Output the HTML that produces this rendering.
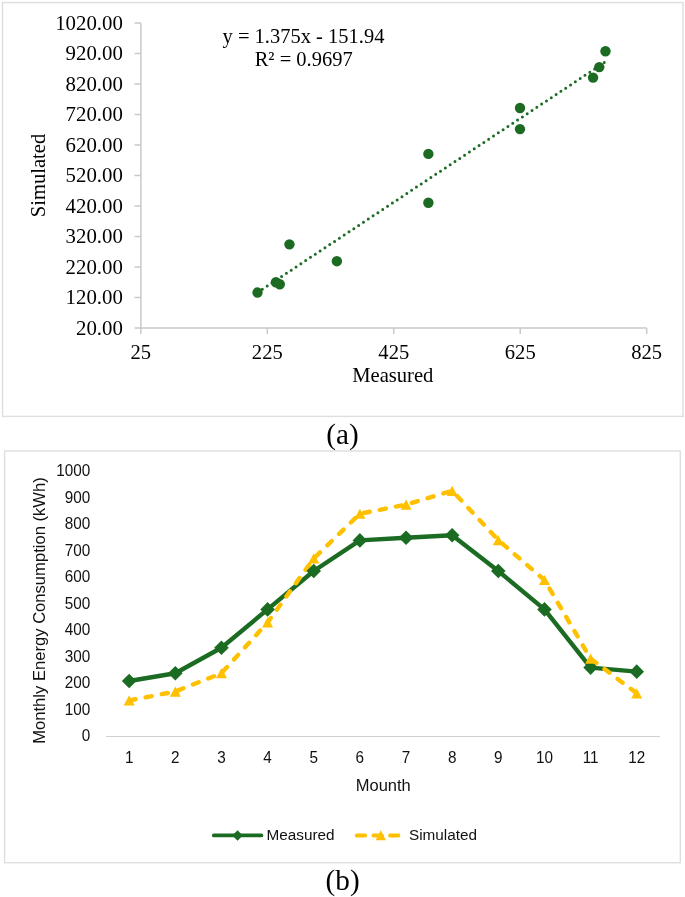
<!DOCTYPE html>
<html><head><meta charset="utf-8"><style>
html,body{margin:0;padding:0;background:#fff;}
svg{display:block;will-change:transform;}
.se{font-family:"Liberation Serif",serif;fill:#000;}
.sa{font-family:"Liberation Sans",sans-serif;fill:#111;}
</style></head><body>
<svg width="685" height="897" viewBox="0 0 685 897">
<rect x="0" y="0" width="685" height="897" fill="#fff"/>

<rect x="2.55" y="2.55" width="680.5" height="413.85" fill="none" stroke="#dedede" stroke-width="1.4"/>
<rect x="4.6" y="450.95" width="675.7" height="411.75" fill="none" stroke="#dedede" stroke-width="1.4"/>
<path d="M140.86 23.0 V327.9 H646.7" fill="none" stroke="#c9c9c9" stroke-width="1.5"/>
<path d="M134.56 327.90 H140.86 M134.56 297.41 H140.86 M134.56 266.92 H140.86 M134.56 236.43 H140.86 M134.56 205.94 H140.86 M134.56 175.45 H140.86 M134.56 144.96 H140.86 M134.56 114.47 H140.86 M134.56 83.98 H140.86 M134.56 53.49 H140.86 M134.56 23.00 H140.86 M140.86 327.9 V333.9 M267.32 327.9 V333.9 M393.78 327.9 V333.9 M520.24 327.9 V333.9 M646.70 327.9 V333.9" fill="none" stroke="#c9c9c9" stroke-width="1.5"/>
<text class="se" x="122.8" y="334.80" font-size="20.8" text-anchor="end">20.00</text>
<text class="se" x="122.8" y="304.31" font-size="20.8" text-anchor="end">120.00</text>
<text class="se" x="122.8" y="273.82" font-size="20.8" text-anchor="end">220.00</text>
<text class="se" x="122.8" y="243.33" font-size="20.8" text-anchor="end">320.00</text>
<text class="se" x="122.8" y="212.84" font-size="20.8" text-anchor="end">420.00</text>
<text class="se" x="122.8" y="182.35" font-size="20.8" text-anchor="end">520.00</text>
<text class="se" x="122.8" y="151.86" font-size="20.8" text-anchor="end">620.00</text>
<text class="se" x="122.8" y="121.37" font-size="20.8" text-anchor="end">720.00</text>
<text class="se" x="122.8" y="90.88" font-size="20.8" text-anchor="end">820.00</text>
<text class="se" x="122.8" y="60.39" font-size="20.8" text-anchor="end">920.00</text>
<text class="se" x="122.8" y="29.90" font-size="20.8" text-anchor="end">1020.00</text>
<text class="se" x="140.86" y="359.2" font-size="20.6" text-anchor="middle">25</text>
<text class="se" x="267.32" y="359.2" font-size="20.6" text-anchor="middle">225</text>
<text class="se" x="393.78" y="359.2" font-size="20.6" text-anchor="middle">425</text>
<text class="se" x="520.24" y="359.2" font-size="20.6" text-anchor="middle">625</text>
<text class="se" x="646.70" y="359.2" font-size="20.6" text-anchor="middle">825</text>
<text class="se" x="392.8" y="382.2" font-size="20.6" text-anchor="middle">Measured</text>
<text class="se" transform="translate(45.2 175.5) rotate(-90)" x="0" y="0" font-size="20.6" text-anchor="middle">Simulated</text>
<line x1="257.52" y1="292.49" x2="605.47" y2="61.79" stroke="#1b6b23" stroke-width="3" stroke-dasharray="0 5.778" stroke-linecap="round"/>
<circle cx="257.52" cy="292.56" r="5.2" fill="#1b6b23"/>
<circle cx="275.92" cy="282.29" r="5.2" fill="#1b6b23"/>
<circle cx="336.87" cy="261.19" r="5.2" fill="#1b6b23"/>
<circle cx="428.37" cy="202.71" r="5.2" fill="#1b6b23"/>
<circle cx="519.99" cy="129.11" r="5.2" fill="#1b6b23"/>
<circle cx="593.08" cy="77.61" r="5.2" fill="#1b6b23"/>
<circle cx="599.28" cy="67.09" r="5.2" fill="#1b6b23"/>
<circle cx="605.47" cy="51.20" r="5.2" fill="#1b6b23"/>
<circle cx="519.99" cy="108.01" r="5.2" fill="#1b6b23"/>
<circle cx="428.37" cy="153.89" r="5.2" fill="#1b6b23"/>
<circle cx="289.45" cy="244.36" r="5.2" fill="#1b6b23"/>
<circle cx="279.78" cy="284.30" r="5.2" fill="#1b6b23"/>
<text class="se" x="303.5" y="43" font-size="20.5" text-anchor="middle">y = 1.375x - 151.94</text>
<text class="se" x="303.7" y="66" font-size="20.5" text-anchor="middle">R² = 0.9697</text>
<text class="se" x="342.5" y="444.2" font-size="29.2" text-anchor="middle">(a)</text>
<line x1="106.1" y1="736.45" x2="659.8" y2="736.45" stroke="#d0d0d0" stroke-width="1.1"/>
<text class="sa" transform="translate(90.2 741.30) scale(1 1.04)" font-size="15.3" text-anchor="end">0</text>
<text class="sa" transform="translate(90.2 714.82) scale(1 1.04)" font-size="15.3" text-anchor="end">100</text>
<text class="sa" transform="translate(90.2 688.33) scale(1 1.04)" font-size="15.3" text-anchor="end">200</text>
<text class="sa" transform="translate(90.2 661.85) scale(1 1.04)" font-size="15.3" text-anchor="end">300</text>
<text class="sa" transform="translate(90.2 635.36) scale(1 1.04)" font-size="15.3" text-anchor="end">400</text>
<text class="sa" transform="translate(90.2 608.88) scale(1 1.04)" font-size="15.3" text-anchor="end">500</text>
<text class="sa" transform="translate(90.2 582.39) scale(1 1.04)" font-size="15.3" text-anchor="end">600</text>
<text class="sa" transform="translate(90.2 555.91) scale(1 1.04)" font-size="15.3" text-anchor="end">700</text>
<text class="sa" transform="translate(90.2 529.42) scale(1 1.04)" font-size="15.3" text-anchor="end">800</text>
<text class="sa" transform="translate(90.2 502.94) scale(1 1.04)" font-size="15.3" text-anchor="end">900</text>
<text class="sa" transform="translate(90.2 476.45) scale(1 1.04)" font-size="15.3" text-anchor="end">1000</text>
<text class="sa" transform="translate(129.17 763.0) scale(1 1.04)" font-size="15.3" text-anchor="middle">1</text>
<text class="sa" transform="translate(175.31 763.0) scale(1 1.04)" font-size="15.3" text-anchor="middle">2</text>
<text class="sa" transform="translate(221.45 763.0) scale(1 1.04)" font-size="15.3" text-anchor="middle">3</text>
<text class="sa" transform="translate(267.60 763.0) scale(1 1.04)" font-size="15.3" text-anchor="middle">4</text>
<text class="sa" transform="translate(313.74 763.0) scale(1 1.04)" font-size="15.3" text-anchor="middle">5</text>
<text class="sa" transform="translate(359.88 763.0) scale(1 1.04)" font-size="15.3" text-anchor="middle">6</text>
<text class="sa" transform="translate(406.02 763.0) scale(1 1.04)" font-size="15.3" text-anchor="middle">7</text>
<text class="sa" transform="translate(452.16 763.0) scale(1 1.04)" font-size="15.3" text-anchor="middle">8</text>
<text class="sa" transform="translate(498.30 763.0) scale(1 1.04)" font-size="15.3" text-anchor="middle">9</text>
<text class="sa" transform="translate(544.45 763.0) scale(1 1.04)" font-size="15.3" text-anchor="middle">10</text>
<text class="sa" transform="translate(590.59 763.0) scale(1 1.04)" font-size="15.3" text-anchor="middle">11</text>
<text class="sa" transform="translate(636.73 763.0) scale(1 1.04)" font-size="15.3" text-anchor="middle">12</text>
<text class="sa" x="383.3" y="790.8" font-size="16.5" text-anchor="middle">Mounth</text>
<text class="sa" transform="translate(45.3 610.5) rotate(-90)" x="0" y="0" font-size="16.6" text-anchor="middle">Monthly Energy Consumption (kWh)</text>
<polyline points="129.17,680.96 175.31,673.26 221.45,647.73 267.60,609.40 313.74,571.02 359.88,540.41 406.02,537.81 452.16,535.22 498.30,571.02 544.45,609.40 590.59,667.59 636.73,671.64" fill="none" stroke="#1b6b23" stroke-width="4.4" stroke-linejoin="round"/>
<polyline points="129.17,700.46 175.31,691.53 221.45,673.20 267.60,622.41 313.74,558.47 359.88,513.74 406.02,504.60 452.16,490.80 498.30,540.14 544.45,580.00 590.59,658.58 636.73,693.28" fill="none" stroke="#ffc000" stroke-width="4.4" stroke-dasharray="6.2 10.22" stroke-dashoffset="16.14" stroke-linecap="round" stroke-linejoin="round"/>
<path d="M129.17 673.66 L136.47 680.96 L129.17 688.26 L121.87 680.96Z" fill="#1b6b23"/>
<path d="M175.31 665.96 L182.61 673.26 L175.31 680.56 L168.01 673.26Z" fill="#1b6b23"/>
<path d="M221.45 640.43 L228.75 647.73 L221.45 655.03 L214.15 647.73Z" fill="#1b6b23"/>
<path d="M267.60 602.10 L274.90 609.40 L267.60 616.70 L260.30 609.40Z" fill="#1b6b23"/>
<path d="M313.74 563.72 L321.04 571.02 L313.74 578.32 L306.44 571.02Z" fill="#1b6b23"/>
<path d="M359.88 533.11 L367.18 540.41 L359.88 547.71 L352.58 540.41Z" fill="#1b6b23"/>
<path d="M406.02 530.51 L413.32 537.81 L406.02 545.11 L398.72 537.81Z" fill="#1b6b23"/>
<path d="M452.16 527.92 L459.46 535.22 L452.16 542.52 L444.86 535.22Z" fill="#1b6b23"/>
<path d="M498.30 563.72 L505.60 571.02 L498.30 578.32 L491.00 571.02Z" fill="#1b6b23"/>
<path d="M544.45 602.10 L551.75 609.40 L544.45 616.70 L537.15 609.40Z" fill="#1b6b23"/>
<path d="M590.59 660.29 L597.89 667.59 L590.59 674.89 L583.29 667.59Z" fill="#1b6b23"/>
<path d="M636.73 664.34 L644.03 671.64 L636.73 678.94 L629.43 671.64Z" fill="#1b6b23"/>
<path d="M129.17 695.36 L134.67 705.56 L123.67 705.56Z" fill="#ffc000"/>
<path d="M175.31 686.43 L180.81 696.63 L169.81 696.63Z" fill="#ffc000"/>
<path d="M221.45 668.10 L226.95 678.30 L215.95 678.30Z" fill="#ffc000"/>
<path d="M267.60 617.31 L273.10 627.51 L262.10 627.51Z" fill="#ffc000"/>
<path d="M313.74 553.37 L319.24 563.57 L308.24 563.57Z" fill="#ffc000"/>
<path d="M359.88 508.64 L365.38 518.84 L354.38 518.84Z" fill="#ffc000"/>
<path d="M406.02 499.50 L411.52 509.70 L400.52 509.70Z" fill="#ffc000"/>
<path d="M452.16 485.70 L457.66 495.90 L446.66 495.90Z" fill="#ffc000"/>
<path d="M498.30 535.04 L503.80 545.24 L492.80 545.24Z" fill="#ffc000"/>
<path d="M544.45 574.90 L549.95 585.10 L538.95 585.10Z" fill="#ffc000"/>
<path d="M590.59 653.48 L596.09 663.68 L585.09 663.68Z" fill="#ffc000"/>
<path d="M636.73 688.18 L642.23 698.38 L631.23 698.38Z" fill="#ffc000"/>
<line x1="213.75" y1="835.45" x2="261.45" y2="835.45" stroke="#1b6b23" stroke-width="3.7" stroke-linecap="round"/>
<path d="M237.55 830.25 L242.75 835.45 L237.55 840.65 L232.35 835.45Z" fill="#1b6b23"/>
<text class="sa" x="266.5" y="840" font-size="15.3">Measured</text>
<line x1="356.7" y1="835.5" x2="398.45" y2="835.5" stroke="#ffc000" stroke-width="3.8" stroke-dasharray="8.5 8.15" stroke-linecap="round"/>
<path d="M380.75 830.25 L385.9 840.3 L375.7 840.3Z" fill="#ffc000"/>
<text class="sa" x="409" y="840" font-size="15.3">Simulated</text>
<text class="se" x="342.6" y="890.2" font-size="29.2" text-anchor="middle">(b)</text>
</svg></body></html>
